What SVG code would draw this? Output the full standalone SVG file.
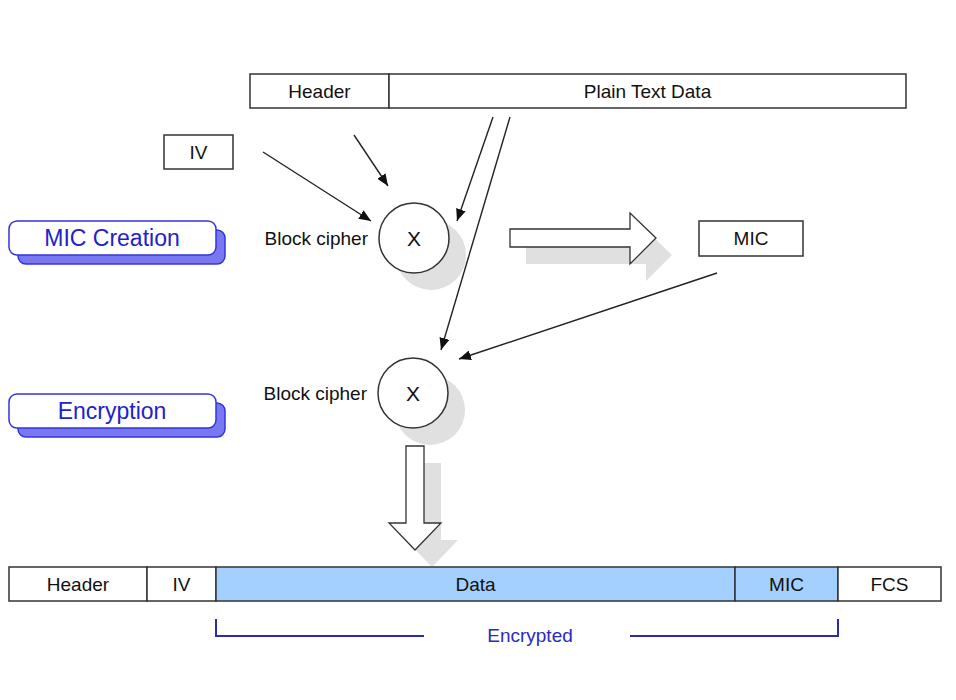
<svg xmlns="http://www.w3.org/2000/svg" width="956" height="700" viewBox="0 0 956 700">
<defs>
<style>
.box{fill:#fff;stroke:#333;stroke-width:1.5}
.enc{fill:#a3d0ff;stroke:#333;stroke-width:1.5}
.t{font-family:"Liberation Sans",Arial,sans-serif;font-size:19px;fill:#111;text-anchor:middle;dominant-baseline:central}
.tl{font-family:"Liberation Sans",Arial,sans-serif;font-size:19px;fill:#111;text-anchor:end;dominant-baseline:central}
.bt{font-family:"Liberation Sans",Arial,sans-serif;font-size:23px;fill:#2222cc;text-anchor:middle;dominant-baseline:central}
.lab{fill:#fff;stroke:#3333dd;stroke-width:1.5}
.labsh{fill:#7878f0;stroke:#3333dd;stroke-width:1.5}
.sh{fill:#e0e0e0}
.conn{stroke:#222;stroke-width:1.4;fill:none;marker-end:url(#ah)}
.big{fill:#fff;stroke:#333;stroke-width:1.3}
.brk{stroke:#2a2ab0;stroke-width:2;fill:none}
</style>
<marker id="ah" viewBox="0 0 12 10" refX="12" refY="5" markerWidth="12" markerHeight="10" markerUnits="userSpaceOnUse" orient="auto">
<path d="M0,0 L12,5 L0,10 Z" fill="#111"/>
</marker>
</defs>

<g id="plain-frame">
<rect class="box" x="250" y="74" width="139" height="34"/>
<text class="t" x="319.5" y="91">Header</text>
<rect class="box" x="389" y="74" width="517" height="34"/>
<text class="t" x="647.5" y="91">Plain Text Data</text>
</g>

<g id="iv">
<rect class="box" x="164" y="135" width="69" height="34"/>
<text class="t" x="198.5" y="152">IV</text>
</g>

<g id="label-mic-creation">
<rect class="labsh" x="18" y="230" width="207" height="34" rx="8"/>
<rect class="lab" x="9" y="221" width="207" height="34" rx="8"/>
<text class="bt" x="112" y="238">MIC Creation</text>
</g>

<g id="label-encryption">
<rect class="labsh" x="18" y="403" width="207" height="34" rx="8"/>
<rect class="lab" x="9" y="394" width="207" height="34" rx="8"/>
<text class="bt" x="112" y="411">Encryption</text>
</g>

<g id="cipher1">
<circle class="sh" cx="431" cy="255" r="35"/>
<circle class="box" cx="414" cy="238" r="35"/>
<text class="t" x="414" y="238" style="font-size:21px">X</text>
<text class="tl" x="368" y="238">Block cipher</text>
</g>

<g id="cipher2">
<circle class="sh" cx="430" cy="410" r="35"/>
<circle class="box" cx="413" cy="393" r="35"/>
<text class="t" x="413" y="393" style="font-size:21px">X</text>
<text class="tl" x="367" y="393">Block cipher</text>
</g>

<g id="mic">
<rect class="box" x="699" y="221" width="104" height="35"/>
<text class="t" x="751" y="238">MIC</text>
</g>

<g id="arrow-right">
<path class="sh" d="M526,246 L646,246 L646,230 L672,255 L646,281 L646,264 L526,264 Z"/>
<path class="big" d="M510,229 L630,229 L630,213 L656,238 L630,264 L630,247 L510,247 Z"/>
</g>

<g id="arrow-down">
<path class="sh" d="M423,463 L441,463 L441,540 L458,540 L432,567 L406,540 L423,540 Z"/>
<path class="big" d="M406,446 L424,446 L424,523 L441,523 L415,550 L389,523 L406,523 Z"/>
</g>

<g id="frame">
<rect class="box" x="9" y="567" width="138" height="34"/>
<text class="t" x="78" y="584">Header</text>
<rect class="box" x="147" y="567" width="69" height="34"/>
<text class="t" x="181.5" y="584">IV</text>
<rect class="enc" x="216" y="567" width="519" height="34"/>
<text class="t" x="475.5" y="584">Data</text>
<rect class="enc" x="735" y="567" width="103" height="34"/>
<text class="t" x="786.5" y="584">MIC</text>
<rect class="box" x="838" y="567" width="103" height="34"/>
<text class="t" x="889.5" y="584">FCS</text>
</g>

<g id="encrypted-bracket">
<path class="brk" d="M216,619 L216,636 L424,636"/>
<path class="brk" d="M630,636 L838,636 L838,619"/>
<text class="t" x="530" y="635" style="fill:#2a2ac0">Encrypted</text>
</g>

<g id="connectors">
<line class="conn" x1="263" y1="152" x2="371" y2="221"/>
<line class="conn" x1="354" y1="135" x2="388" y2="186"/>
<line class="conn" x1="493" y1="117" x2="457" y2="221"/>
<line class="conn" x1="510" y1="117" x2="441" y2="350"/>
<line class="conn" x1="717" y1="273" x2="459" y2="359"/>
</g>
</svg>
